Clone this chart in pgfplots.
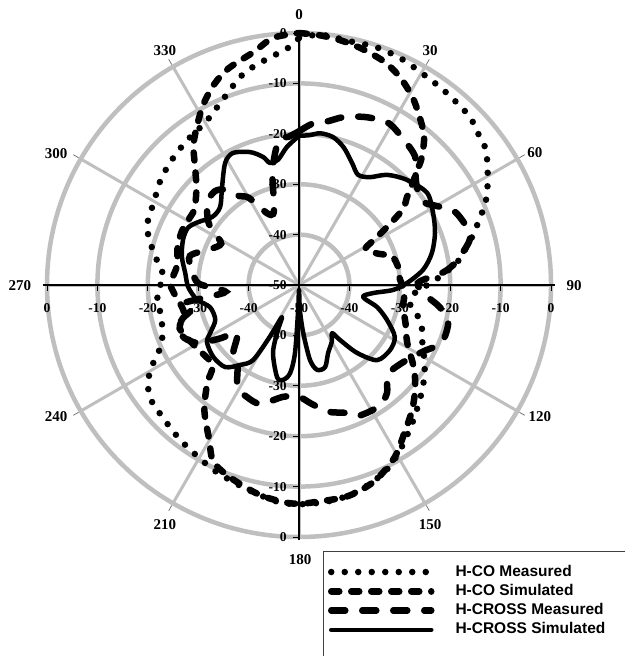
\documentclass[border=0pt]{standalone}
\usepackage{pgfplots}
\pgfplotsset{compat=1.18}
\usepackage{pgfplotstable}
\usepackage{fontspec}
\setmainfont{Liberation Serif}
\newfontfamily\arialfont{Liberation Sans}
\definecolor{gridgray}{RGB}{191,191,191}
\newcommand{\legfont}{\arialfont\bfseries\fontsize{15.5}{18}\selectfont}
\newcommand{\angfont}{\bfseries\fontsize{15}{18}\selectfont}
\newcommand{\radfont}{\bfseries\fontsize{13.5}{16}\selectfont}

\pgfplotstableread{
a d
0 -1.0
3 -0.4
6 -0.2
12 -0.6
18 -0.4
24 -0.7
30 -1.4
37 -1.9
45 -2.4
50 -3.5
54 -4.2
58 -5.9
61 -7.2
64 -8.5
67 -10.0
70 -12.0
73 -13.5
77 -15.8
82 -18.4
88 -23.0
94 -27.0
100 -27.6
105 -25.5
110 -24.0
115 -23.0
122 -20.6
126 -19.3
130 -18.0
135 -16.5
140 -14.8
145 -13.0
150 -11.0
155 -9.3
160 -8.2
165 -7.3
170 -6.8
175 -6.6
180 -6.5
185 -6.7
190 -7.5
195 -8.3
200 -9.0
205 -9.6
210 -10.4
215 -11.0
220 -11.6
227 -12.4
232 -12.8
237 -14.2
241 -16.6
244 -18.8
247 -20.4
251 -21.3
256 -21.9
261 -21.9
266 -21.8
270 -22.5
274 -23.0
279 -21.7
283 -20.3
291 -17.7
300 -16.8
308 -15.4
317 -14.3
325 -13.4
330 -12.8
337 -10.5
344 -7.2
348 -5.8
353 -4.4
357 -3.1
360 -1.0
}\hcomeas

\pgfplotstableread{
a d
0 0.0
5 -0.3
10 -0.8
15 -1.5
21 -2.6
26 -4.2
31 -6.4
35 -8.6
40 -11.4
44 -15.0
46 -17.5
48 -19.6
51 -22.5
54 -24.6
57 -29.7
59 -32.8
61 -34.9
64 -34.5
68 -33.3
73 -30.7
80 -30.0
86 -30.0
91 -29.4
96 -29.0
102 -28.9
110 -27.5
118 -25.7
126 -21.8
132 -19.0
138 -16.5
144 -14.2
151 -10.9
159 -8.3
167 -7.0
176 -6.8
180 -6.6
184 -6.8
191 -7.7
200 -9.5
206 -11.1
210 -14.4
217 -18.8
223 -23.3
227 -26.6
235 -26.5
242 -25.8
250 -24.8
256 -26.5
262 -26.0
267 -25.0
271 -24.5
279 -25.5
288 -24.7
296 -24.4
305 -24.5
309 -23.6
314 -21.7
319 -18.5
323 -15.2
327.5 -12.4
332 -9.5
337 -6.8
342 -4.8
349 -2.9
354 -0.7
360 0.0
}\hcosim

\pgfplotstableread{
a d
0 -19.5
5 -17.8
10 -17.0
15 -15.5
22 -14.1
29 -13.3
36 -14.5
42 -15.6
46 -17.9
50 -19.5
56 -20.4
61 -18.0
65 -15.8
71 -14.8
75 -14.9
79 -17.0
82 -18.7
85 -21.3
89 -26.4
95 -24.5
99 -21.7
104 -19.5
112 -19.5
118 -22.0
125 -24.0
135 -25.0
141 -22.3
147 -21.2
156 -21.5
160 -23.0
167 -24.2
174 -26.3
180 -27.8
188 -27.6
198 -25.2
205 -25.5
211 -26.3
218 -30.2
224 -31.2
232 -34.4
236 -31.0
240 -27.0
245 -25.0
250 -24.5
254 -26.0
257 -28.0
261 -26.7
264 -35.0
267 -34.0
271 -30.0
278 -28.5
285 -27.6
292 -31.0
298 -32.5
302 -30.0
305 -28.0
312 -25.5
318 -25.0
322 -26.0
326 -28.7
330 -30.0
336 -34.4
340 -35.0
343 -33.0
347 -26.6
352 -21.0
356 -20.5
360 -19.5
}\hcrossmeas

\pgfplotstableread{
a d
0 -20.4
4 -20.2
8 -19.6
13 -19.9
18 -21.3
23.5 -23.6
28.2 -25.2
33.3 -24.4
38.7 -22.0
45.8 -20.1
54.3 -18.7
61.7 -19.8
69 -21.1
76.5 -22.9
83 -25.2
89 -28.6
93 -31.3
96.2 -35.2
100.6 -37.1
105.8 -33.9
111.7 -31.2
118.4 -28.4
125.5 -27.8
133.9 -28.5
139.5 -32.3
143.3 -36.4
145.5 -38.4
150 -37.0
156.9 -35.3
162.4 -32.9
168 -32.8
171.7 -35.0
175 -40.5
178 -45.0
180 -49.0
182 -45.0
183.4 -36.5
185.8 -32.4
189.6 -30.9
193.4 -31.2
201 -35.6
205 -40.0
208 -42.8
209.5 -38.0
211.5 -32.5
216.4 -30.3
222 -28.1
230 -27.8
238.2 -28.5
241.7 -30.0
247.4 -32.0
256 -31.8
262 -29.5
269 -28.0
276 -27.3
283.5 -26.1
291.2 -25.3
297.2 -25.2
301.9 -26.4
308 -28.1
314.6 -28.0
321.8 -25.3
328.8 -21.7
333.4 -20.7
339.8 -21.9
344.3 -23.6
346.6 -25.1
350.5 -24.8
355 -22.5
360 -20.4
}\hcrosssim

\begin{document}
\begin{tikzpicture}
\begin{scope}[shift={(299.02pt,370.99pt)}, x=5.04pt, y=5.04pt]
  \foreach \r in {10,20,30,40,50} \draw[gridgray, line width=4.5pt] (0,0) circle[radius=\r];
  \foreach \t in {0,30,...,330} \draw[gridgray, line width=3pt] (0,0) -- ({90-\t}:50);
  \foreach \t in {30,60,120,150,210,240,300,330} \draw[black!60, line width=0.7pt] ({90-\t}:50.5) -- ({90-\t}:51.7);
  \draw[black, line width=1.3pt] (-50.8,0) -- (50.8,0);
  \draw[black, line width=1.3pt] (0,-50.6) -- (0,50.6);
  \foreach \v in {-50,-40,...,50} {\draw[black, line width=1pt] (\v,0) -- (\v,-1.1); \draw[black, line width=1pt] (0,\v) -- (-1.1,\v);}
  \foreach \v/\l in {50/0,40/-10,30/-20,20/-30,10/-40,0/-50,-10/-40,-20/-30,-30/-20,-40/-10,-50/0}
    \node[anchor=east, inner sep=0pt, font=\radfont] at (-2.4,\v) {\l};
  \foreach \v/\l in {-50/0,-40/-10,-30/-20,-20/-30,-10/-40,0/-50,10/-40,20/-30,30/-20,40/-10,50/0}
    \node[inner sep=0pt, font=\radfont] at (\v,-4.56) {\l};
  \foreach \p/\l in {{(0,53.6)}/0,{(26.0,46.6)}/30,{(46.8,26.2)}/60,{(54.6,-0.2)}/90,{(47.8,-26.2)}/120,{(26.0,-47.6)}/150,{(0.2,-54.4)}/180,{(-26.6,-47.6)}/210,{(-48.2,-26.2)}/240,{(-55.4,-0.2)}/270,{(-48.2,26.0)}/300,{(-26.6,46.6)}/330}
    \node[inner sep=0pt, font=\angfont] at \p {\l};
\end{scope}
\begin{axis}[scale only axis, width=624pt, height=656pt,
  xmin=-59.33, xmax=64.48, ymin=-73.61, ymax=56.55,
  axis lines=none, clip=false,
  legend style={at={(axis cs:5.75,-55.36)}, anchor=north west, draw=none, fill=none,
    inner sep=0pt, outer sep=0pt, row sep=3.3pt, font=\legfont,
    nodes={inner sep=1pt, text height=11pt, text depth=3pt},
    /tikz/every odd column/.append style={column sep=20pt}},
  legend cell align=left,
  legend image code/.code={\draw[#1] (0pt,0pt) -- (100pt,0pt);},
]
\addplot[black, line width=6.5pt, line cap=round, dash pattern=on 0pt off 13.5pt, smooth, tension=0.5]
  table[x expr={(\thisrow{d}+50)*sin(\thisrow{a})}, y expr={(\thisrow{d}+50)*cos(\thisrow{a})}] {\hcomeas};
\addlegendentry{H-CO Measured}
\addplot[black, line width=6.5pt, line cap=round, dash pattern=on 8pt off 12pt, smooth, tension=0.5]
  table[x expr={(\thisrow{d}+50)*sin(\thisrow{a})}, y expr={(\thisrow{d}+50)*cos(\thisrow{a})}] {\hcosim};
\addlegendentry{H-CO Simulated}
\addplot[black, line width=6.5pt, line cap=round, dash pattern=on 14pt off 17pt, smooth, tension=0.5]
  table[x expr={(\thisrow{d}+50)*sin(\thisrow{a})}, y expr={(\thisrow{d}+50)*cos(\thisrow{a})}] {\hcrossmeas};
\addlegendentry{H-CROSS Measured}
\addplot[black, line width=4.5pt, line cap=round, line join=round, smooth, tension=0.5]
  table[x expr={(\thisrow{d}+50)*sin(\thisrow{a})}, y expr={(\thisrow{d}+50)*cos(\thisrow{a})}] {\hcrosssim};
\addlegendentry{H-CROSS Simulated}
\end{axis}
\begin{scope}[shift={(299.02pt,370.99pt)}, x=5.04pt, y=5.04pt]
  \draw[black!75, line width=0.9pt] (4.76,-80) -- (4.76,-52.78) -- (70,-52.78);
\end{scope}
\pgfresetboundingbox
\path (0,0) rectangle (624pt,656pt);
\end{tikzpicture}
\end{document}
